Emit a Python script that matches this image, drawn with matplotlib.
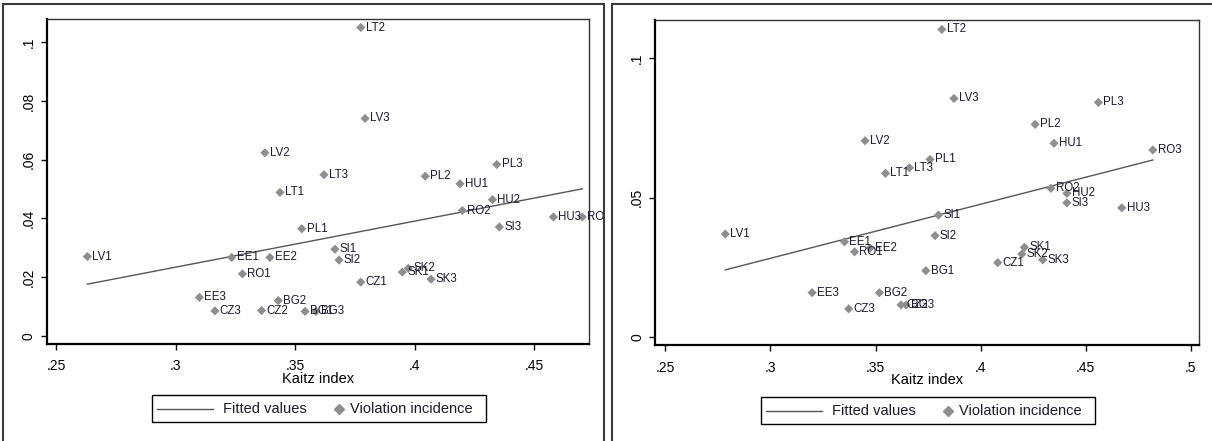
import matplotlib
matplotlib.use("Agg")
from matplotlib import pyplot as plt
from matplotlib.patches import Rectangle
from matplotlib.lines import Line2D
from matplotlib.transforms import Bbox, TransformedBbox

plt.rcParams['font.family'] = ['Liberation Sans', 'DejaVu Sans']

# left panel
labelsLeft = ['LT2', 'LV3', 'LV2', 'LT3', 'PL2', 'HU1', 'PL3', 'LT1', 'HU2', 'RO2',
              'HU3', 'RO3', 'PL1', 'SI3', 'SI1', 'EE1', 'EE2', 'LV1', 'SI2', 'SK2',
              'SK1', 'RO1', 'SK3', 'CZ1', 'EE3', 'BG2', 'CZ2', 'CZ3', 'BG1', 'BG3']
kaitzLeft = [0.3775, 0.3793, 0.3374, 0.3621, 0.4045, 0.4190, 0.4344, 0.3437, 0.4326, 0.4200,
             0.4581, 0.4702, 0.3528, 0.4355, 0.3667, 0.3235, 0.3395, 0.2631, 0.3684, 0.3974,
             0.3949, 0.3280, 0.4069, 0.3775, 0.3100, 0.3430, 0.3360, 0.3165, 0.3542, 0.3588]
violLeft = [0.1051, 0.0741, 0.0624, 0.0549, 0.0544, 0.0518, 0.0584, 0.0489, 0.0464, 0.0427,
            0.0405, 0.0405, 0.0365, 0.0371, 0.0295, 0.0267, 0.0267, 0.0270, 0.0258, 0.0230,
            0.0217, 0.0211, 0.0193, 0.0183, 0.0131, 0.0120, 0.0086, 0.0085, 0.0083, 0.0083]
fitLeft = [0.0176, 0.0501]

# right panel
labelsRight = ['LT2', 'LV3', 'PL3', 'PL2', 'HU1', 'RO3', 'LV2', 'PL1', 'LT3', 'LT1',
               'RO2', 'HU2', 'SI3', 'HU3', 'SI1', 'LV1', 'SI2', 'EE1', 'EE2', 'RO1',
               'SK1', 'SK2', 'SK3', 'CZ1', 'BG1', 'EE3', 'BG2', 'CZ2', 'BG3', 'CZ3']
kaitzRight = [0.3815, 0.3873, 0.4560, 0.4259, 0.4349, 0.4819, 0.3450, 0.3759, 0.3661, 0.3547,
              0.4334, 0.4410, 0.4410, 0.4671, 0.3799, 0.2785, 0.3783, 0.3352, 0.3474, 0.3400,
              0.4208, 0.4196, 0.4295, 0.4081, 0.3739, 0.3198, 0.3518, 0.3621, 0.3645, 0.3372]
violRight = [0.1104, 0.0856, 0.0842, 0.0763, 0.0695, 0.0671, 0.0704, 0.0637, 0.0607, 0.0587,
             0.0533, 0.0515, 0.0481, 0.0463, 0.0437, 0.0369, 0.0363, 0.0341, 0.0318, 0.0305,
             0.0321, 0.0297, 0.0276, 0.0266, 0.0237, 0.0158, 0.0158, 0.0114, 0.0114, 0.0100]
fitRight = [0.0240, 0.0635]

xticksLeft = [0.25, 0.3, 0.35, 0.4, 0.45]
xtickLabelsLeft = ['.25', '.3', '.35', '.4', '.45']
yticksLeft = [0, 0.02, 0.04, 0.06, 0.08, 0.1]
ytickLabelsLeft = ['0', '.02', '.04', '.06', '.08', '.1']
xticksRight = [0.25, 0.3, 0.35, 0.4, 0.45, 0.5]
xtickLabelsRight = ['.25', '.3', '.35', '.4', '.45', '.5']
yticksRight = [0, 0.05, 0.1]
ytickLabelsRight = ['0', '.05', '.1']

W, H = 1212, 441
markerColor = '#8e8e8e'
lineColor = '#555555'
textColor = '#1a1a2a'


def px(x, y):
  # pixel position (from top-left) to figure fraction
  return x / W, 1 - y / H


def drawLegend(fig, left, top):
  # stata-like legend box, drawn by hand so the key spacing matches
  x0, y0 = px(left, top + 27.3)
  fig.patches.append(Rectangle((x0, y0), 334 / W, 27.3 / H, transform=fig.transFigure,
                               fill=False, edgecolor='black', lw=1.0))
  yc = top + 14
  a = px(left + 5, yc)
  b = px(left + 61, yc)
  fig.add_artist(Line2D([a[0], b[0]], [a[1], b[1]], color=lineColor, lw=1.0,
                        transform=fig.transFigure))
  t = px(left + 71, yc)
  fig.text(t[0], t[1], 'Fitted values', ha='left', va='center', fontsize=10.5, color=textColor)
  m = px(left + 187, yc)
  fig.add_artist(Line2D([m[0]], [m[1]], marker='D', ms=5, color=markerColor, lw=0,
                        transform=fig.transFigure))
  t = px(left + 198, yc)
  fig.text(t[0], t[1], 'Violation incidence', ha='left', va='center', fontsize=10.5,
           color=textColor)


def drawPanel(fig, rect, xs, ys, labels, fit, xlim, ylim, xt, xtl, yt, ytl, clipRight):
  ax = fig.add_axes(rect)
  ax.set_xlim(xlim)
  ax.set_ylim(ylim)

  fitX = [min(xs), max(xs)]
  ax.plot(fitX, fit, color=lineColor, lw=1.0, zorder=2)
  ax.scatter(xs, ys, marker='D', s=22, color=markerColor, edgecolors='none', zorder=3)

  clipBox = TransformedBbox(Bbox([[0, 0], [clipRight, 1]]), fig.transFigure)
  for i in range(len(labels)):
    t = ax.annotate(labels[i], (xs[i], ys[i]), xytext=(3.5, 0), textcoords='offset points',
                    ha='left', va='center', fontsize=8.3, color=textColor, zorder=4,
                    annotation_clip=False)
    t.set_clip_on(True)
    t.set_clip_box(clipBox)

  ax.set_xticks(xt)
  ax.set_xticklabels(xtl)
  ax.set_yticks(yt)
  ax.set_yticklabels(ytl, rotation=90, va='center')
  ax.tick_params(axis='x', direction='out', length=4, width=1, labelsize=10, pad=7)
  ax.tick_params(axis='y', direction='out', length=4, width=1, labelsize=10, pad=4)
  ax.set_xlabel('Kaitz index', fontsize=10.5, labelpad=-1)

  for side in ['left', 'bottom']:
    ax.spines[side].set_linewidth(1.6)
  for side in ['top', 'right']:
    ax.spines[side].set_linewidth(1.0)
    ax.spines[side].set_color('#333333')
  return ax


fig = plt.figure(figsize=(W / 100, H / 100), dpi=100)

drawPanel(fig, [46.7 / W, 1 - 344 / H, (589 - 46.7) / W, (344 - 19) / H],
          kaitzLeft, violLeft, labelsLeft, fitLeft, (0.2461, 0.473), (-0.0028, 0.108),
          xticksLeft, xtickLabelsLeft, yticksLeft, ytickLabelsLeft, 604 / W)
drawLegend(fig, 151.7, 395)

drawPanel(fig, [655.3 / W, 1 - 345.3 / H, (1199.3 - 655.3) / W, (345.3 - 20) / H],
          kaitzRight, violRight, labelsRight, fitRight, (0.2452, 0.504), (-0.0031, 0.1138),
          xticksRight, xtickLabelsRight, yticksRight, ytickLabelsRight, 1.0)
drawLegend(fig, 761, 396.7)

# outer graph borders
fig.patches.append(Rectangle((3 / W, -0.05), 601 / W, 1.05 - 4 / H, transform=fig.transFigure,
                             fill=False, edgecolor='#3a3a3a', lw=1.5))
fig.patches.append(Rectangle((612 / W, -0.05), 0.6, 1.05 - 4 / H, transform=fig.transFigure,
                             fill=False, edgecolor='#3a3a3a', lw=1.5))

fig.savefig('out.png', dpi=100)
